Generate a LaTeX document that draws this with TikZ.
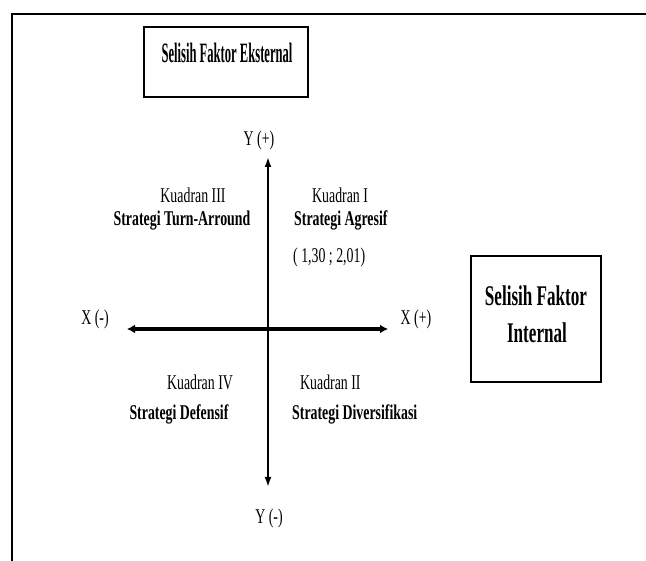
\documentclass[tikz,border=0pt]{standalone}
\usepackage{fontspec}
\setmainfont{Liberation Serif}
\newfontfamily\labf[FakeStretch=0.66]{Liberation Serif}
\newfontfamily\topf[FakeStretch=0.45]{Liberation Serif}
\newfontfamily\rightf[FakeStretch=0.6]{Liberation Serif}
\usetikzlibrary{arrows.meta}
\begin{document}
\begin{tikzpicture}[x=1pt,y=-1pt,
  lbl/.style={inner sep=0pt, anchor=base, font=\labf\fontsize{21}{21}\selectfont},
  blbl/.style={lbl, font=\labf\bfseries\fontsize{21}{21}\selectfont},
  boxed/.style={draw, line width=1.3pt, inner sep=0pt},
  axisline/.style={line width=1.8pt}]
\useasboundingbox (0,0) rectangle (646,561);
% outer frame
\draw[line width=1.5pt] (12,561) -- (12,14) -- (646,14);
% top box
\node[boxed, minimum width=164pt, minimum height=70pt] (ext) at (226,62) {};
\node[inner sep=0pt, anchor=base, font=\topf\bfseries\fontsize{28}{28}\selectfont] (extt) at (227,63) {Selisih Faktor Eksternal};
% right box
\node[boxed, minimum width=130pt, minimum height=126pt] (int) at (536,319) {};
\node[inner sep=0pt, anchor=base, font=\rightf\bfseries\fontsize{28.5}{28.5}\selectfont] (int1) at (536,306) {Selisih Faktor};
\node[inner sep=0pt, anchor=base, font=\rightf\bfseries\fontsize{28.5}{28.5}\selectfont] (int2) at (537,343) {Internal};
% axes
\coordinate (yt) at (268,157);
\coordinate (yb) at (268,487);
\coordinate (xl) at (127,329);
\coordinate (xr) at (388,329);
\draw[line width=3.2pt, {Latex[length=8pt,width=9pt]}-{Latex[length=8pt,width=9pt]}] (xl) -- (xr);
\draw[axisline, {Latex[length=10pt,width=7pt]}-{Latex[length=10pt,width=7pt]}] (yt) -- (yb);
% axis labels
\node[lbl] (yp) at (259,146) {Y (+)};
\node[lbl] (ym) at (269,524) {Y (-)};
\node[lbl] (xm) at (95,325) {X (-)};
\node[lbl] (xp) at (416,325) {X (+)};
% quadrant labels
\node[lbl] (k3) at (193,203) {Kuadran III};
\node[blbl] (s3) at (182,226) {Strategi Turn-Arround};
\node[lbl, anchor=base west] (k1) at (312,203) {Kuadran I};
\node[blbl, anchor=base west] (s1) at (294,226) {Strategi Agresif};
\node[lbl, anchor=base west] (c1) at (293,263) {( 1,30 ; 2,01)};
\node[lbl] (k4) at (200,390) {Kuadran IV};
\node[blbl] (s4) at (179,420) {Strategi Defensif};
\node[lbl, anchor=base west] (k2) at (300,390) {Kuadran II};
\node[blbl, anchor=base west] (s2) at (292,420) {Strategi Diversifikasi};
\end{tikzpicture}
\end{document}
